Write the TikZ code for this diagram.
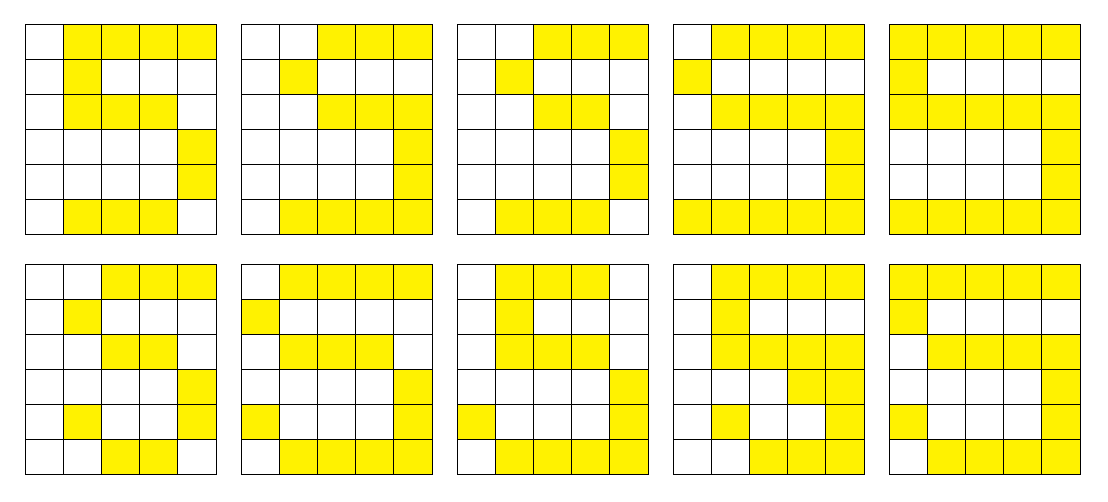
\documentclass[tikz,border=0pt]{standalone}
\definecolor{celly}{RGB}{255,242,0}

\begin{document}
\begin{tikzpicture}[x=1pt,y=-1pt,
          square/.style={rectangle, draw=black, line width=1pt, minimum width=38.1pt,
            minimum height=35pt, inner sep=0pt, outer sep=0pt},
          square0/.style={square, fill=white},
          square1/.style={square, fill=celly}]

        \useasboundingbox (0,0) rectangle (1108,502);

        % one grid: 5 columns, 6 rows, read row by row
        \foreach \g/\gx/\gy/\pat in {
            1/25.5/24.3/{0,1,1,1,1, 0,1,0,0,0, 0,1,1,1,0, 0,0,0,0,1, 0,0,0,0,1, 0,1,1,1,0},
            2/241.5/24.3/{0,0,1,1,1, 0,1,0,0,0, 0,0,1,1,1, 0,0,0,0,1, 0,0,0,0,1, 0,1,1,1,1},
            3/457.5/24.3/{0,0,1,1,1, 0,1,0,0,0, 0,0,1,1,0, 0,0,0,0,1, 0,0,0,0,1, 0,1,1,1,0},
            4/673.5/24.3/{0,1,1,1,1, 1,0,0,0,0, 0,1,1,1,1, 0,0,0,0,1, 0,0,0,0,1, 1,1,1,1,1},
            5/889.5/24.3/{1,1,1,1,1, 1,0,0,0,0, 1,1,1,1,1, 0,0,0,0,1, 0,0,0,0,1, 1,1,1,1,1},
            6/25.5/264.3/{0,0,1,1,1, 0,1,0,0,0, 0,0,1,1,0, 0,0,0,0,1, 0,1,0,0,1, 0,0,1,1,0},
            7/241.5/264.3/{0,1,1,1,1, 1,0,0,0,0, 0,1,1,1,0, 0,0,0,0,1, 1,0,0,0,1, 0,1,1,1,1},
            8/457.5/264.3/{0,1,1,1,0, 0,1,0,0,0, 0,1,1,1,0, 0,0,0,0,1, 1,0,0,0,1, 0,1,1,1,1},
            9/673.5/264.3/{0,1,1,1,1, 0,1,0,0,0, 0,1,1,1,1, 0,0,0,1,1, 0,1,0,0,1, 0,0,1,1,1},
            10/889.5/264.3/{1,1,1,1,1, 1,0,0,0,0, 0,1,1,1,1, 0,0,0,0,1, 1,0,0,0,1, 0,1,1,1,1}}
        {
          \foreach \b [count=\i from 0] in \pat {
            \pgfmathtruncatemacro{\col}{mod(\i,5)}
            \pgfmathtruncatemacro{\row}{int(\i/5)}
            \node[square\b] (g\g c\i) at (\gx+38.1*\col+19.05, \gy+35*\row+17.5) {};
          }
        }

      \end{tikzpicture}
\end{document}
